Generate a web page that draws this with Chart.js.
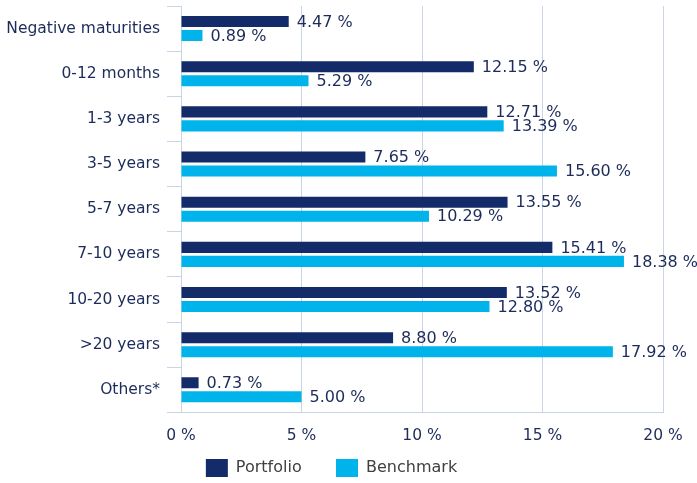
<!DOCTYPE html>
<html lang="en">
<head>
<meta charset="UTF-8">
<title>Maturity breakdown</title>
<script src="https://cdn.jsdelivr.net/npm/chart.js@4.4.4/dist/chart.umd.js"></script>
<style>
  html, body { margin: 0; padding: 0; background: #fff; }
  #wrap { width: 697px; height: 483px; }
</style>
</head>
<body>
<div id="wrap"><canvas id="myChart"></canvas></div>
<script>
// categories and values (%)
const categories = ['Negative maturities', '0-12 months', '1-3 years', '3-5 years', '5-7 years',
  '7-10 years', '10-20 years', '>20 years', 'Others*'];
const portfolio = [4.47, 12.15, 12.71, 7.65, 13.55, 15.41, 13.52, 8.80, 0.73];
const benchmark = [0.89, 5.29, 13.39, 15.60, 10.29, 18.38, 12.80, 17.92, 5.00];

const navy = '#142b69';
const sky = '#00b4eb';
const gridCol = '#c9d5e6';
const textCol = '#1c2b5a';

// value labels to the right of each bar
const valueLabels = {
  id: 'valueLabels',
  afterDatasetsDraw(chart) {
    const ctx = chart.ctx;
    ctx.save();
    ctx.font = '16px "DejaVu Sans"';
    ctx.fillStyle = textCol;
    ctx.textBaseline = 'middle';
    ctx.textAlign = 'left';
    chart.data.datasets.forEach((ds, i) => {
      chart.getDatasetMeta(i).data.forEach((bar, j) => {
        ctx.fillText(ds.data[j].toFixed(2) + ' %', bar.x + 8, bar.y + 1);
      });
    });
    ctx.restore();
  }
};

const ctx = document.getElementById('myChart').getContext('2d');
new Chart(ctx, {
  type: 'bar',
  data: {
    labels: categories,
    datasets: [
      { label: 'Portfolio', data: portfolio, backgroundColor: navy },
      { label: 'Benchmark', data: benchmark, backgroundColor: sky }
    ]
  },
  options: {
    indexAxis: 'y',
    responsive: true,
    maintainAspectRatio: false,
    animation: false,
    categoryPercentage: 0.62,
    barPercentage: 0.79,
    layout: { padding: { top: 6, right: 34, bottom: -4, left: 0 } },
    scales: {
      x: {
        min: 0,
        max: 20,
        afterFit: s => { s.height -= 14; },
        ticks: {
          stepSize: 5,
          padding: 14,
          color: textCol,
          font: { family: 'DejaVu Sans', size: 15.5 },
          callback: v => v + ' %'
        },
        grid: { color: gridCol, drawTicks: false },
        border: { color: gridCol }
      },
      y: {
        afterFit: s => { s.width = 181; s.paddingTop = 0; s.paddingBottom = 0; },
        ticks: {
          padding: 7,
          color: textCol,
          font: { family: 'DejaVu Sans', size: 15.5 }
        },
        grid: { color: gridCol, drawOnChartArea: false, tickLength: 14 },
        border: { color: gridCol }
      }
    },
    plugins: {
      tooltip: { enabled: false },
      legend: {
        position: 'bottom',
        labels: {
          boxWidth: 22,
          boxHeight: 18,
          padding: 14,
          color: '#404040',
          font: { family: 'DejaVu Sans', size: 16 },
          // wider gap after the first entry, as in the original
          generateLabels: chart => {
            const items = Chart.defaults.plugins.legend.labels.generateLabels(chart);
            items[0].text += '    ';
            return items;
          }
        }
      }
    }
  },
  plugins: [valueLabels]
});
</script>
</body>
</html>
